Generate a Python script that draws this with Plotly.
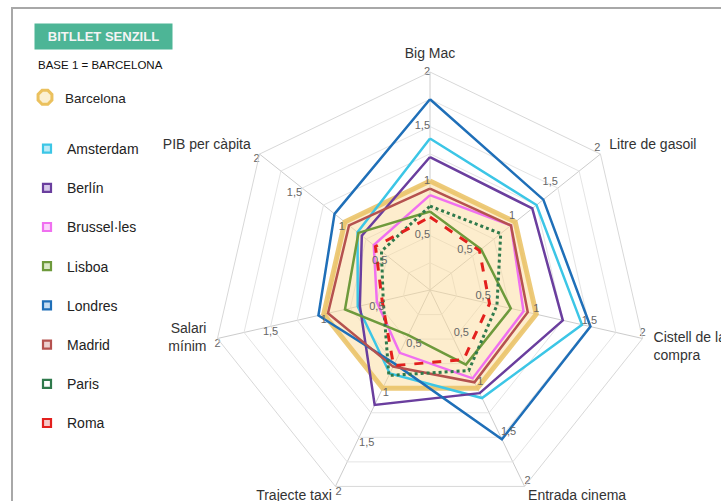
import plotly.graph_objects as go

# ---- data -------------------------------------------------------------
axes_labels = ["Big Mac", "Litre de gasoil", "Cistell de la<br>compra", "Entrada cinema",
               "Trajecte taxi", "Salari<br>mínim", "PIB per càpita"]

barcelona = [1, 1, 1, 1, 1, 1, 1]
amsterdam = [1.39, 1.25, 1.43, 1.10, 0.85, 0.68, 0.85]
berlin = [1.22, 1.20, 1.25, 1.05, 1.17, 0.66, 0.80]
brussel = [0.87, 0.95, 0.88, 0.90, 0.64, 0.50, 0.66]
lisboa = [0.72, 0.60, 0.76, 0.76, 0.46, 0.80, 0.84]
londres = [1.75, 1.33, 1.51, 1.52, 0.75, 1.05, 1.12]
madrid = [0.93, 0.95, 0.92, 0.94, 0.78, 0.96, 0.95]
paris = [0.77, 0.83, 0.63, 0.82, 0.87, 0.44, 0.57]
roma = [0.67, 0.58, 0.56, 0.71, 0.77, 0.45, 0.64]

radial_ticks = [0.5, 1, 1.5, 2]
radial_tick_text = ["0,5", "1", "1,5", "2"]

W, H = 721, 520
FONT = "Liberation Sans, Arial, sans-serif"


def closed(vals):
    return list(vals) + [vals[0]]


theta_closed = closed(axes_labels)

fig = go.Figure()

# Barcelona: base reference polygon with filled interior
fig.add_trace(go.Scatterpolar(
    r=closed(barcelona), theta=theta_closed, mode="lines",
    line=dict(color="rgba(234,193,98,0.85)", width=5),
    fill="toself", fillcolor="rgba(251,217,150,0.48)",
    showlegend=False, hoverinfo="skip",
))

cities = [
    ("Amsterdam", amsterdam, "#3CC6E6", "#BDEBF7", "solid"),
    ("Berlín", berlin, "#6A3E9E", "#D6C8EA", "solid"),
    ("Brussel·les", brussel, "#F070F0", "#FBD4FB", "solid"),
    ("Lisboa", lisboa, "#6E9A3C", "#DCE9C8", "solid"),
    ("Londres", londres, "#1F6FB8", "#C5DDF2", "solid"),
    ("Madrid", madrid, "#B5524F", "#EDD0CF", "solid"),
    ("Paris", paris, "#2F7A4C", "#FFFFFF", "dot"),
    ("Roma", roma, "#E3201E", "#F7C9C8", "dash"),
]

for name, vals, col, light, dash in cities:
    fig.add_trace(go.Scatterpolar(
        r=closed(vals), theta=theta_closed, mode="lines",
        line=dict(color=col, width=3 if dash != "solid" else 2.5, dash=dash),
        name=name, showlegend=False, hoverinfo="skip",
    ))

# radial value labels repeated along every spoke
label_pos = ["middle left", "top left", "top center", "top right",
             "bottom right", "bottom center", "bottom left"]
r_lab, th_lab, tx_lab, pos_lab = [], [], [], []
for i, cat in enumerate(axes_labels):
    for v, t in zip(radial_ticks, radial_tick_text):
        r_lab.append(v)
        th_lab.append(cat)
        tx_lab.append(t)
        pos_lab.append(label_pos[i])
fig.add_trace(go.Scatterpolar(
    r=r_lab, theta=th_lab, mode="text", text=tx_lab, textposition=pos_lab,
    textfont=dict(family=FONT, size=11, color="#666666"),
    showlegend=False, hoverinfo="skip",
))

# axis names for the lower spokes sit beside their outer vertex
# (an invisible marker of the given size pads the text away from the vertex)
side_names = {"Entrada cinema": ("bottom right", 4),
              "Trajecte taxi": ("bottom left", 4),
              "Salari<br>mínim": ("middle left", 16)}
fig.add_trace(go.Scatterpolar(
    r=[radial_ticks[-1]] * len(side_names), theta=list(side_names),
    mode="markers+text", text=list(side_names),
    textposition=[p for p, _ in side_names.values()],
    marker=dict(size=[s for _, s in side_names.values()], opacity=0),
    textfont=dict(family=FONT, size=14, color="#333333"),
    showlegend=False, hoverinfo="skip", cliponaxis=False,
))
angular_ticktext = ["" if c in side_names else c for c in axes_labels]

# legend entries
fig.add_trace(go.Scatterpolar(
    r=[None], theta=[axes_labels[0]], mode="markers", name="Barcelona",
    marker=dict(symbol="octagon", size=15, color="#FBF0D2",
                line=dict(color="#EBC15E", width=3)),
    legend="legend", legendgroup="Barcelona",
))
for name, vals, col, light, dash in cities:
    fig.add_trace(go.Scatterpolar(
        r=[None], theta=[axes_labels[0]], mode="markers", name=name,
        marker=dict(symbol="square", size=8, color=light,
                    line=dict(color=col, width=2.2)),
        legend="legend2", legendgroup=name,
    ))

cx, cy, R = 430, 290, 218
fig.update_layout(
    width=W, height=H,
    margin=dict(l=0, r=0, t=0, b=0),
    paper_bgcolor="white",
    font=dict(family=FONT, color="#333333"),
    polar=dict(
        domain=dict(x=[(cx - R) / W, (cx + R) / W],
                    y=[(H - cy - R) / H, (H - cy + R) / H]),
        gridshape="linear",
        bgcolor="white",
        radialaxis=dict(range=[0, 2], tickvals=[0.25, 0.5, 0.75, 1, 1.25, 1.5, 1.75, 2],
                        showticklabels=False, ticks="", showline=False,
                        gridcolor="#E4E4E4", gridwidth=1),
        angularaxis=dict(direction="clockwise", rotation=90,
                         tickmode="array", tickvals=axes_labels, ticktext=angular_ticktext,
                         ticks="outside", ticklen=8, tickcolor="rgba(0,0,0,0)",
                         gridcolor="#CCCCCC", linecolor="#D8D8D8", linewidth=1,
                         tickfont=dict(family=FONT, size=14, color="#333333")),
    ),
    legend=dict(x=25 / W, xanchor="left", y=(H - 82) / H, yanchor="top",
                font=dict(family=FONT, size=13.5, color="#222222"),
                bgcolor="rgba(0,0,0,0)", itemclick=False),
    legend2=dict(x=27 / W, xanchor="left", y=(H - 133) / H, yanchor="top",
                 font=dict(family=FONT, size=14, color="#222222"),
                 tracegroupgap=18, bgcolor="rgba(0,0,0,0)", itemclick=False),
    shapes=[dict(type="rect", xref="paper", yref="paper",
                 x0=12 / W, x1=1.05, y0=-0.1, y1=(H - 8) / H,
                 line=dict(color="#A8A8A8", width=2), layer="below")],
    annotations=[
        dict(text="<b>BITLLET SENZILL</b>", xref="paper", yref="paper",
             x=34 / W, y=(H - 23) / H, xanchor="left", yanchor="top",
             width=137, height=25, align="center", valign="middle",
             bgcolor="#4DB596", showarrow=False, borderpad=0,
             font=dict(family=FONT, size=13, color="#F4F4F4")),
        dict(text="BASE 1 = BARCELONA", xref="paper", yref="paper",
             x=36 / W, y=(H - 65) / H, xanchor="left", yanchor="middle",
             showarrow=False, font=dict(family=FONT, size=11.5, color="#111111")),
    ],
)

fig.write_html("out.html", post_script=(
    "document.body.style.margin='0';"
    "document.body.style.overflow='hidden';"
    "document.documentElement.style.overflow='hidden';"))
